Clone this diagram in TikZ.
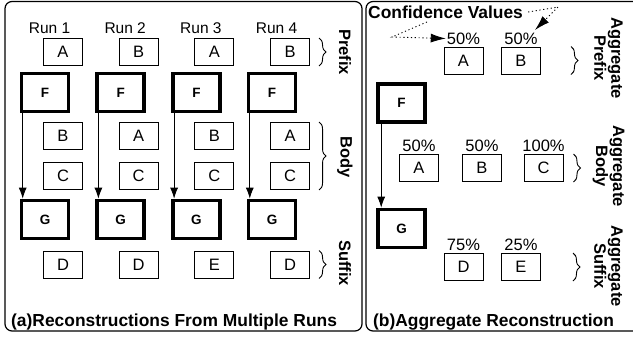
\documentclass[tikz,border=0pt]{standalone}
\usepackage{fontspec}
\setmainfont{Liberation Sans}
\usetikzlibrary{arrows.meta,positioning,decorations.pathreplacing}

\tikzset{
  box/.style={draw, line width=0.9pt, minimum width=39pt, minimum height=27pt, inner sep=0pt, font=\fontsize{16.5}{18}\selectfont},
  bigbox/.style={draw, line width=3.6pt, minimum width=47pt, minimum height=38pt, inner sep=0pt, font=\bfseries\fontsize{13.5}{15}\selectfont},
  runlbl/.style={inner sep=0pt, font=\fontsize{15.5}{17}\selectfont},
  pct/.style={inner sep=0pt, font=\fontsize{16.5}{17}\selectfont},
  side/.style={rotate=-90, inner sep=0pt, align=center, font=\bfseries\fontsize{16.5}{17}\selectfont},
  title/.style={anchor=west, inner sep=0pt, font=\bfseries\fontsize{17.4}{19}\selectfont},
  panel/.style={draw, line width=1.2pt, rounded corners=7pt},
  brc/.style={decorate, decoration={brace, amplitude=7pt}, line width=0.9pt},
  flow/.style={-{Latex[length=11pt,width=8pt]}, line width=0.9pt},
  hint/.style={line width=0.9pt, dash pattern=on 1.2pt off 2.6pt, -{Latex[length=15pt,width=9pt]}}
}

\begin{document}
\begin{tikzpicture}[x=1pt,y=-1pt]
    \useasboundingbox (0,0) rectangle (633,341);

    % panels
    \draw[panel] (5,1.5) rectangle (362,331);
    \draw[panel] (366,1.5) rectangle (645,331);

    % (a) four runs
    \foreach \xp/\xb/\xc/\xs [count=\i] in {A/B/C/D, B/A/C/D, A/B/C/E, B/A/C/D}
    {
        \pgfmathsetmacro\cx{63+75.7*(\i-1)}
        \pgfmathsetmacro\fx{45+75.7*(\i-1)}
        \node(run\i)[runlbl] at (\cx-13.5,28) {Run \i};
        \node(pre\i)[box] at (\cx,52) {\xp};
        \node(f\i)[bigbox] at (\fx,92.5) {F};
        \node(bda\i)[box] at (\cx,136) {\xb};
        \node(bdb\i)[box] at (\cx,176) {\xc};
        \node(g\i)[bigbox] at (\fx,219.5) {G};
        \node(suf\i)[box] at (\cx,264.5) {\xs};
        \draw[flow] ([xshift=3pt]f\i.south west) -- ([xshift=3pt]g\i.north west);
    }

    \draw[brc] ([xshift=9pt]pre4.north east) -- ([xshift=9pt]pre4.south east);
    \draw[brc] ([xshift=9pt]bda4.north east) -- ([xshift=9pt]bdb4.south east);
    \draw[brc] ([xshift=9pt]suf4.north east) -- ([xshift=9pt]suf4.south east);

    \node(lpre)[side] at (345,52) {Prefix};
    \node(lbody)[side] at (345,157) {Body};
    \node(lsuf)[side] at (345,263) {Suffix};

    \node(titlea)[title] at (11,322) {(a)Reconstructions From Multiple Runs};

    % (b) aggregate
    \node(conf)[title] at (368,12) {Confidence Values};

    \node(apa)[box] at (463.5,60.5) {A};
    \node(apb)[box] at (521,60.5) {B};
    \node(ppa)[pct, above=2pt of apa] {50\%};
    \node(ppb)[pct, above=2pt of apb] {50\%};

    \node(af)[bigbox] at (401.5,103) {F};
    \node(ag)[bigbox] at (401.5,228.5) {G};
    \draw[flow] ([xshift=5pt]af.south west) -- ([xshift=5pt]ag.north west);

    \node(aba)[box] at (419,168) {A};
    \node(abb)[box] at (482,168) {B};
    \node(abc)[box] at (543.5,168) {C};
    \node(pba)[pct, above=2pt of aba] {50\%};
    \node(pbb)[pct, above=2pt of abb] {50\%};
    \node(pbc)[pct, above=2pt of abc] {100\%};

    \node(asd)[box] at (463.5,267) {D};
    \node(ase)[box] at (521,267) {E};
    \node(psd)[pct, above=2pt of asd] {75\%};
    \node(pse)[pct, above=2pt of ase] {25\%};

    \draw[brc] ([xshift=30pt]apb.north east) -- ([xshift=30pt]apb.south east);
    \draw[brc] ([xshift=10pt]abc.north east) -- ([xshift=10pt]abc.south east);
    \draw[brc] ([xshift=32pt]ase.north east) -- ([xshift=32pt]ase.south east);

    \node(rpre)[side] at (608.5,58) {Aggregate\\Prefix};
    \node(rbody)[side] at (608.5,166) {Aggregate\\Body};
    \node(rsuf)[side] at (608.5,266) {Aggregate\\Suffix};

    \node(titleb)[title] at (373,322) {(b)Aggregate Reconstruction};

    % confidence hints
    \coordinate(h1a) at (427,22);
    \coordinate(h1b) at (392,37);
    \coordinate(h2b) at (558,7);
    \coordinate(h2c) at (535,30);
    \draw[hint] (h1a) -- (h1b) -- ([xshift=-1pt]ppa.west);
    \draw[hint] ([xshift=5pt]conf.east) -- (h2b) -- (h2c);
\end{tikzpicture}
\end{document}
